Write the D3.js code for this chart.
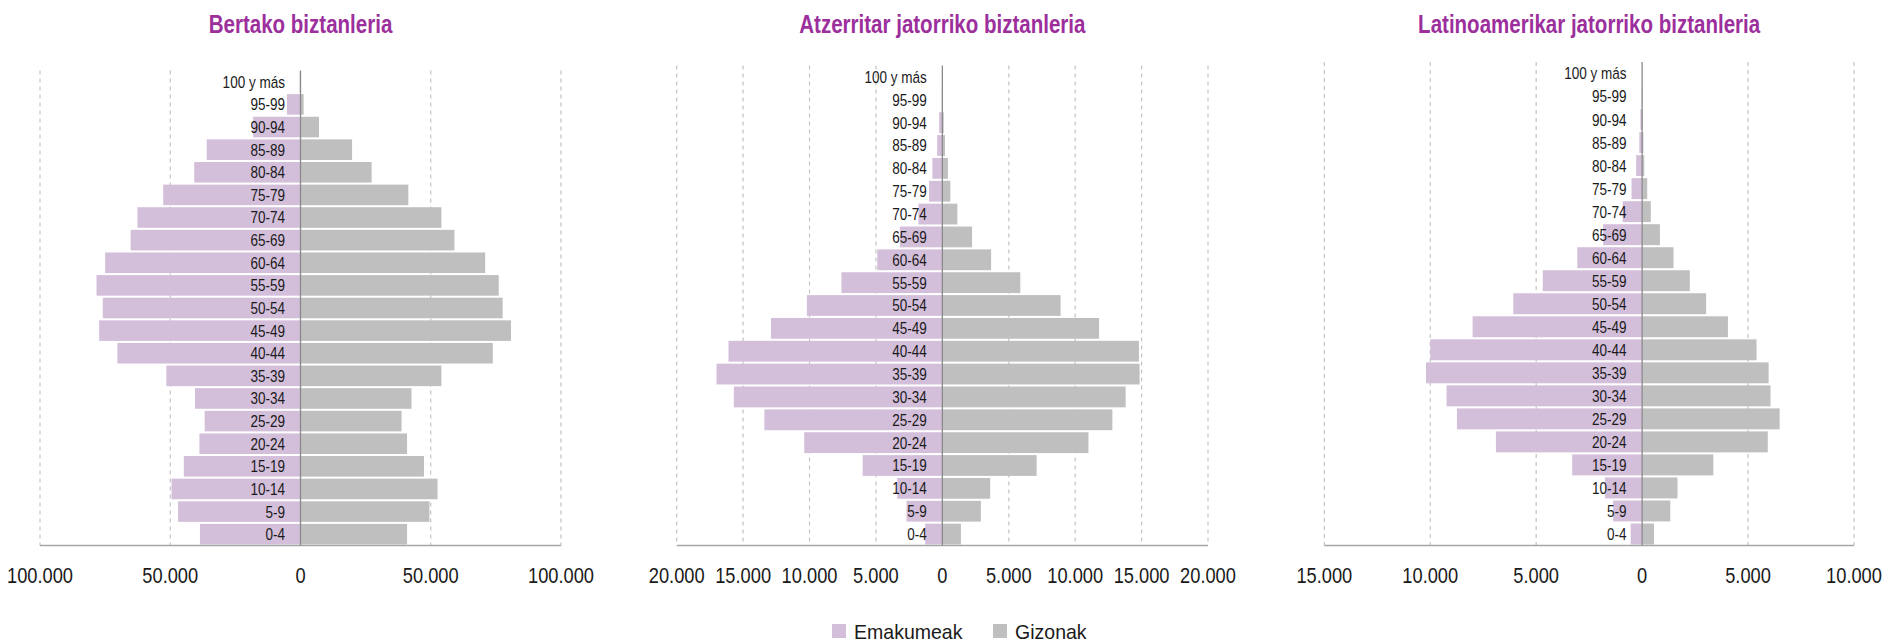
<!DOCTYPE html>
<html>
<head>
<meta charset="utf-8">
<script src="https://cdn.jsdelivr.net/npm/d3@7"></script>
<style>
  html, body { margin: 0; padding: 0; background: #fff; }
  svg { display: block; font-family: "Liberation Sans", Arial, sans-serif; }
  .title { font-weight: bold; fill: #9c2f9c; font-size: 26px; }
  .age { font-size: 16.5px; fill: #1a1a1a; }
  .tick-label { font-size: 22px; fill: #1a1a1a; }
  .legend text { font-size: 21px; fill: #1a1a1a; }
</style>
</head>
<body>
<div id="chart"></div>
<script>
const width = 1884;
const height = 643;

// age groups, from top to bottom
const ageGroups = ['100 y más', '95-99', '90-94', '85-89', '80-84', '75-79', '70-74', '65-69',
    '60-64', '55-59', '50-54', '45-49', '40-44', '35-39', '30-34', '25-29', '20-24',
    '15-19', '10-14', '5-9', '0-4'];

// Bertako biztanleria
const bertakoEmakumeak = [300, 5200, 18200, 36000, 40800, 52700, 62600, 65200, 75000, 78300, 75900,
    77300, 70300, 51500, 40500, 36800, 38800, 44800, 49500, 47000, 38600];
const bertakoGizonak = [200, 1200, 7100, 19800, 27300, 41400, 54100, 59100, 70900, 76100, 77600,
    80800, 73800, 54100, 42600, 38800, 40900, 47400, 52600, 49500, 40900];

// Atzerritar jatorriko biztanleria
const atzerritarEmakumeak = [10, 40, 240, 390, 750, 1000, 1800, 3200, 4900, 7600, 10200,
    12900, 16100, 17000, 15700, 13400, 10400, 6000, 3400, 2700, 1300];
const atzerritarGizonak = [5, 30, 100, 200, 420, 600, 1130, 2240, 3670, 5870, 8900,
    11800, 14800, 14850, 13800, 12800, 11000, 7100, 3600, 2900, 1400];

// Latinoamerikar jatorriko biztanleria
const latinoEmakumeak = [5, 20, 80, 130, 280, 500, 920, 1840, 3060, 4690, 6080,
    8000, 10000, 10200, 9230, 8740, 6900, 3300, 1750, 1370, 540];
const latinoGizonak = [3, 10, 30, 60, 100, 240, 410, 840, 1480, 2250, 3020,
    4050, 5400, 5970, 6060, 6490, 5930, 3360, 1670, 1330, 560];

const bertakoTicks = [-100000, -50000, 0, 50000, 100000];
const atzerritarTicks = [-20000, -15000, -10000, -5000, 0, 5000, 10000, 15000, 20000];
const latinoTicks = [-15000, -10000, -5000, 0, 5000, 10000];

const legendLabels = ['Emakumeak', 'Gizonak'];
const colors = { female: '#d4bfdb', male: '#bfbfbf' };

const panels = [
    { title: 'Bertako biztanleria', female: bertakoEmakumeak, male: bertakoGizonak,
        ticks: bertakoTicks, x0: 40, x1: 561, top: 70.5 },
    { title: 'Atzerritar jatorriko biztanleria', female: atzerritarEmakumeak, male: atzerritarGizonak,
        ticks: atzerritarTicks, x0: 676.7, x1: 1208, top: 65.5 },
    { title: 'Latinoamerikar jatorriko biztanleria', female: latinoEmakumeak, male: latinoGizonak,
        ticks: latinoTicks, x0: 1324.3, x1: 1854, top: 62 }
];

const axisY = 545.5;
// no condensed font installed, so squeeze the glyphs horizontally
const narrowAge = 0.82;
const narrowTick = 0.83;
const narrowTitle = 0.79;

const locale = d3.formatLocale({ decimal: ',', thousands: '.', grouping: [3], currency: ['', '€'] });
const fmt = locale.format(',d');

const svg = d3.select('#chart')
    .append('svg')
    .attr('width', width)
    .attr('height', height);

const squeeze = (x, y, s) => `translate(${x},${y}) scale(${s},1)`;

function drawPyramid (p) {
    const g = svg.append('g');
    const ticks = p.ticks;

    const x = d3.scaleLinear()
        .domain([ticks[0], ticks[ticks.length - 1]])
        .range([p.x0, p.x1]);

    const y = d3.scaleBand()
        .domain(ageGroups)
        .range([p.top, axisY])
        .paddingInner(0.09)
        .paddingOuter(0.045);

    // TITLE
    g.append('text')
        .attr('class', 'title')
        .attr('transform', squeeze((p.x0 + p.x1) / 2, 33, narrowTitle))
        .attr('text-anchor', 'middle')
        .text(p.title);

    // GRID
    g.selectAll('.grid')
        .data(ticks.filter(d => d !== 0))
        .enter()
        .append('line')
        .attr('class', 'grid')
        .attr('x1', d => x(d))
        .attr('x2', d => x(d))
        .attr('y1', p.top)
        .attr('y2', axisY)
        .attr('stroke', '#c4c4c4')
        .attr('stroke-width', 1.2)
        .attr('stroke-dasharray', '4,4');

    // BARS
    const rows = ageGroups.map((age, i) => ({ age, f: p.female[i], m: p.male[i] }));

    g.selectAll('.female')
        .data(rows)
        .enter()
        .append('rect')
        .attr('class', 'female')
        .attr('x', d => x(-d.f))
        .attr('y', d => y(d.age))
        .attr('width', d => x(0) - x(-d.f))
        .attr('height', y.bandwidth())
        .attr('fill', colors.female);

    g.selectAll('.male')
        .data(rows)
        .enter()
        .append('rect')
        .attr('class', 'male')
        .attr('x', x(0))
        .attr('y', d => y(d.age))
        .attr('width', d => x(d.m) - x(0))
        .attr('height', y.bandwidth())
        .attr('fill', colors.male);

    // AXIS
    g.append('line')
        .attr('x1', p.x0)
        .attr('x2', p.x1)
        .attr('y1', axisY)
        .attr('y2', axisY)
        .attr('stroke', '#a6a6a6')
        .attr('stroke-width', 1.5);

    g.append('line')
        .attr('x1', x(0))
        .attr('x2', x(0))
        .attr('y1', p.top)
        .attr('y2', axisY)
        .attr('stroke', '#8a8a8a')
        .attr('stroke-width', 1.3);

    g.selectAll('.tick-label')
        .data(ticks)
        .enter()
        .append('text')
        .attr('class', 'tick-label')
        .attr('transform', d => squeeze(x(d), 583, narrowTick))
        .attr('text-anchor', 'middle')
        .text(d => fmt(Math.abs(d)));

    // AGE LABELS
    g.selectAll('.age')
        .data(ageGroups)
        .enter()
        .append('text')
        .attr('class', 'age')
        .attr('transform', d => squeeze(x(0) - 15.5, y(d) + y.bandwidth() / 2, narrowAge))
        .attr('dy', '0.36em')
        .attr('text-anchor', 'end')
        .text(d => d);
}

panels.forEach(drawPyramid);

// LEGEND
const legend = svg.append('g').attr('class', 'legend');
const legendItems = [
    { label: legendLabels[0], color: colors.female, x: 832 },
    { label: legendLabels[1], color: colors.male, x: 993 }
];
legendItems.forEach(d => {
    legend.append('rect')
        .attr('x', d.x)
        .attr('y', 624)
        .attr('width', 14)
        .attr('height', 14)
        .attr('fill', d.color);
    legend.append('text')
        .attr('transform', squeeze(d.x + 22, 639, 0.93))
        .text(d.label);
});
</script>
</body>
</html>
